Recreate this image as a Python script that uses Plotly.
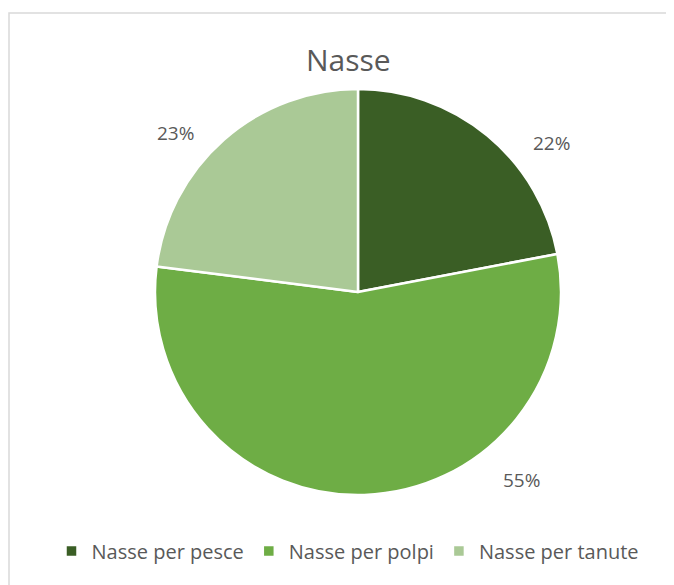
import plotly.graph_objects as go

categories = ["Nasse per pesce", "Nasse per polpi", "Nasse per tanute"]
values = [22, 55, 23]
colors = ["#3A5E25", "#6EAD45", "#AAC996"]

W, H = 674, 585
# the page puts the figure 8px in from the top-left corner
OFF = 8
# label spots for the percentages (page pixels from top-left)
label_px = [(551, 143), (521, 480), (175, 133)]


def px_x(x):
    return (x - OFF) / W


def px_y(y):
    return 1 - (y - OFF) / H


fig = go.Figure(
    data=go.Pie(
        labels=categories,
        values=values,
        sort=False,
        direction="clockwise",
        rotation=0,
        textinfo="none",
        hoverinfo="label+percent",
        marker=dict(colors=colors, line=dict(color="white", width=2.5)),
        domain=dict(x=[px_x(155), px_x(561)], y=[px_y(495), px_y(89)]),
    )
)

total = sum(values)
annotations = []
for v, (px, py) in zip(values, label_px):
    annotations.append(
        dict(
            x=px_x(px),
            y=px_y(py),
            xref="paper",
            yref="paper",
            xanchor="center",
            yanchor="middle",
            text=f"{round(100 * v / total)}%",
            showarrow=False,
            font=dict(family="Open Sans", size=19, color="#595959"),
        )
    )
annotations.append(
    dict(
        x=px_x(348),
        y=px_y(59),
        xref="paper",
        yref="paper",
        xanchor="center",
        yanchor="middle",
        text="Nasse",
        showarrow=False,
        font=dict(family="Open Sans", size=30, color="#595959"),
    )
)

fig.update_layout(
    width=W,
    height=H,
    margin=dict(l=0, r=0, t=0, b=0),
    paper_bgcolor="white",
    plot_bgcolor="white",
    annotations=annotations,
    showlegend=True,
    legend=dict(
        orientation="h",
        x=px_x(348),
        xanchor="center",
        y=px_y(551),
        yanchor="middle",
        font=dict(family="Open Sans", size=20, color="#595959"),
        itemwidth=30,
        tracegroupgap=0,
    ),
    shapes=[
        dict(
            type="rect",
            xref="paper",
            yref="paper",
            x0=px_x(9),
            x1=px_x(671),
            y0=-0.02,
            y1=px_y(13),
            line=dict(color="#D9D9D9", width=1.5),
        )
    ],
)

fig.write_html("out.html")
